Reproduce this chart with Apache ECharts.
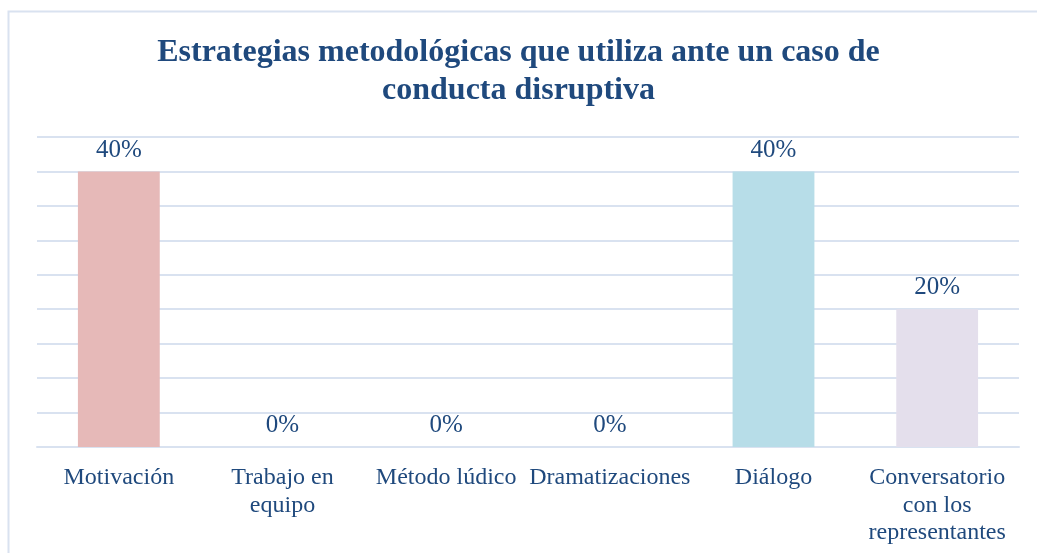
<!DOCTYPE html>
<html>
<head>
<meta charset="utf-8">
<script src="https://cdn.jsdelivr.net/npm/echarts@6/dist/echarts.min.js"></script>
<style>
  html, body { margin: 0; padding: 0; background: #fff; }
  #chart { width: 1037px; height: 553px; }
</style>
</head>
<body>
<div id="chart"></div>
<script>
// datos del gráfico
var categorias = ['Motivación', 'Trabajo en\nequipo', 'Método lúdico', 'Dramatizaciones', 'Diálogo', 'Conversatorio\ncon los\nrepresentantes'];
var valores = [0.40, 0, 0, 0, 0.40, 0.20];
var colores = ['#E6B9B8', '#FCD5B5', '#D7E4BD', '#CCC1DA', '#B7DDE8', '#E4DFEC'];

var azul = '#1F497D';
var myChart = echarts.init(document.getElementById('chart'));

var option = {
    animation: false,
    backgroundColor: '#fff',
    title: {
        text: 'Estrategias metodológicas que utiliza ante un caso de\nconducta disruptiva',
        left: 'center',
        top: 29,
        textStyle: {
            fontFamily: 'Liberation Serif',
            fontWeight: 'bold',
            fontSize: 32,
            lineHeight: 38,
            color: azul
        }
    },
    graphic: [{
        type: 'rect',
        shape: { x: 8.5, y: 11.5, width: 1040, height: 560 },
        style: { fill: 'none', stroke: '#D9E2F0', lineWidth: 2 },
        silent: true
    }],
    grid: { left: 37, right: 18, top: 137, bottom: 106 },
    xAxis: {
        type: 'category',
        data: categorias,
        axisLine: { lineStyle: { color: '#D9E2F0', width: 2 } },
        axisTick: { show: false },
        axisLabel: {
            interval: 0,
            margin: 17,
            fontFamily: 'Liberation Serif',
            fontSize: 24,
            lineHeight: 27.5,
            color: azul
        }
    },
    yAxis: {
        type: 'value',
        min: 0,
        max: 0.45,
        interval: 0.05,
        axisLabel: { show: false },
        axisLine: { show: false },
        axisTick: { show: false },
        splitLine: { lineStyle: { color: '#D9E2F0', width: 2 } }
    },
    series: [{
        type: 'bar',
        barWidth: '50%',
        data: valores.map(function (v, i) {
            return { value: v, itemStyle: { color: colores[i] } };
        }),
        label: {
            show: true,
            position: 'top',
            distance: 9,
            fontFamily: 'Liberation Serif',
            fontSize: 25,
            color: azul,
            formatter: function (p) { return Math.round(p.value * 100) + '%'; }
        }
    }]
};

myChart.setOption(option);
</script>
</body>
</html>
